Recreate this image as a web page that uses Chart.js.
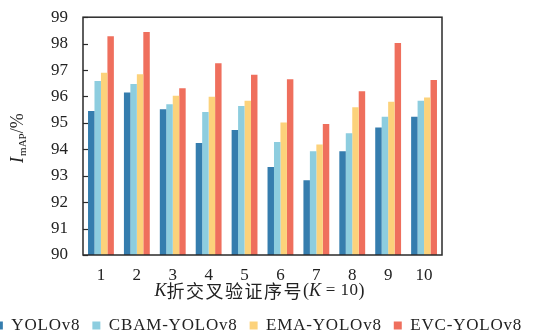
<!DOCTYPE html>
<html>
<head>
<meta charset="utf-8">
<script src="https://cdn.jsdelivr.net/npm/chart.js@4/dist/chart.umd.min.js"></script>
<style>
html,body{margin:0;padding:0;background:#fff;overflow:hidden;}
#wrap{position:relative;width:557px;height:335px;margin-left:-20px;}
</style>
</head>
<body>
<div id="wrap"><canvas id="c"></canvas></div>
<script>
const categories = ['1','2','3','4','5','6','7','8','9','10'];
const yolov8 = [95.45, 96.15, 95.52, 94.24, 94.73, 93.33, 92.83, 93.93, 94.83, 95.23];
const cbamYolov8 = [96.59, 96.47, 95.71, 95.41, 95.64, 94.28, 93.93, 94.61, 95.23, 95.84];
const emaYolov8 = [96.90, 96.84, 96.03, 95.99, 95.84, 95.01, 94.18, 95.59, 95.80, 95.96];
const evcYolov8 = [98.28, 98.44, 96.31, 97.26, 96.82, 96.65, 94.96, 96.20, 98.02, 96.62];
const seriesNames = ['YOLOv8', 'CBAM-YOLOv8', 'EMA-YOLOv8', 'EVC-YOLOv8'];
const yTicks = [90, 91, 92, 93, 94, 95, 96, 97, 98, 99];
const colors = ['#357dae', '#8dcddf', '#fcd27b', '#ef6f5d'];

const SERIF = "'Liberation Serif','Times New Roman',serif";
const CJK = "'Noto Sans CJK SC',sans-serif";

const customPlugin = {
  id: 'custom',
  beforeUpdate(chart) {
    const lg = chart.legend;
    if (lg && !lg._patched) {
      lg._patched = true;
      const oFit = lg.fit.bind(lg);
      lg.fit = function () {
        const ctx = this.ctx, prev = ctx.letterSpacing;
        ctx.letterSpacing = '0.8px';
        oFit();
        ctx.letterSpacing = prev || '0px';
        this.height = 30;
      };
      const oDraw = lg.draw.bind(lg);
      lg.draw = function () {
        const ctx = this.ctx, prev = ctx.letterSpacing;
        ctx.letterSpacing = '0.8px';
        oDraw();
        ctx.letterSpacing = prev || '0px';
      };
    }
  },
  afterDraw(chart) {
    const {ctx, chartArea: a, scales} = chart;
    ctx.save();
    ctx.strokeStyle = '#2a2a2a';
    ctx.lineWidth = 1.5;
    ctx.strokeRect(a.left, a.top, a.right - a.left, a.bottom - a.top);
    ctx.lineWidth = 1.2;
    yTicks.forEach(v => {
      const y = Math.round(scales.y.getPixelForValue(v)) + 0.5;
      ctx.beginPath();
      ctx.moveTo(a.left, y);
      ctx.lineTo(a.left + 5, y);
      ctx.stroke();
    });
    ctx.fillStyle = '#222';
    ctx.translate(37, (a.top + a.bottom) / 2 + 2);
    ctx.rotate(-Math.PI / 2);
    ctx.textBaseline = 'alphabetic';
    const p1 = 'I', p2 = 'mAP', p3 = '/%';
    ctx.font = 'italic 18px ' + SERIF;
    const w1 = ctx.measureText(p1).width;
    ctx.font = '11px ' + SERIF;
    const w2 = ctx.measureText(p2).width;
    ctx.font = '18px ' + SERIF;
    const w3 = ctx.measureText(p3).width;
    let x = -(w1 + w2 + w3 + 1) / 2;
    ctx.font = 'italic 18px ' + SERIF;
    ctx.fillText(p1, x, 6); x += w1 + 1;
    ctx.font = '11px ' + SERIF;
    ctx.fillText(p2, x, 9); x += w2;
    ctx.font = '18px ' + SERIF;
    ctx.fillText(p3, x, 6);
    ctx.restore();

    ctx.save();
    ctx.fillStyle = '#222';
    ctx.textBaseline = 'middle';
    const parts = [
      ['K', 'italic 18px ' + SERIF, '0px'],
      ['折交叉验证序号', '18px ' + CJK, '1.5px'],
      ['(', '18px ' + SERIF, '0px'],
      ['K', 'italic 18px ' + SERIF, '0px'],
      [' = 10', '17px ' + SERIF, '0.5px'],
      [')', '18px ' + SERIF, '0px']
    ];
    let tw = 0;
    parts.forEach(p => { ctx.font = p[1]; ctx.letterSpacing = p[2]; p.push(ctx.measureText(p[0]).width); tw += p[3]; });
    let xx = (a.left + a.right) / 2 - 3 - tw / 2;
    const yy = 291;
    parts.forEach(p => { ctx.font = p[1]; ctx.letterSpacing = p[2]; ctx.fillText(p[0], xx, yy); xx += p[3]; });
    ctx.letterSpacing = '0px';
    ctx.restore();
  }
};

new Chart(document.getElementById('c'), {
  type: 'bar',
  data: {
    labels: categories,
    datasets: [yolov8, cbamYolov8, emaYolov8, evcYolov8].map((d, i) => ({
      label: seriesNames[i],
      data: d,
      backgroundColor: colors[i],
      borderWidth: 0,
      categoryPercentage: 0.72,
      barPercentage: 1.0
    }))
  },
  options: {
    responsive: true,
    maintainAspectRatio: false,
    animation: false,
    layout: {padding: {top: 16, left: 0, right: 0, bottom: 0}},
    plugins: {
      legend: {
        position: 'bottom',
        labels: {
          boxWidth: 8,
          boxHeight: 8,
          padding: 12,
          color: '#222',
          font: {family: SERIF, size: 17}
        }
      },
      tooltip: {enabled: false}
    },
    scales: {
      x: {
        grid: {display: false},
        border: {display: false},
        ticks: {color: '#222', padding: 2, font: {family: SERIF, size: 17}},
        afterFit(s) { s.height = 50; }
      },
      y: {
        min: 90, max: 99,
        afterBuildTicks(s) { s.ticks = yTicks.map(v => ({value: v})); },
        grid: {display: false},
        border: {display: false},
        ticks: {color: '#222', padding: 7, font: {family: SERIF, size: 17}},
        afterFit(s) { s.width = 103; }
      },
      yR: {
        position: 'right',
        display: true,
        grid: {display: false},
        border: {display: false},
        ticks: {display: false},
        afterFit(s) { s.width = 95; }
      }
    }
  },
  plugins: [customPlugin]
});
</script>
</body>
</html>
